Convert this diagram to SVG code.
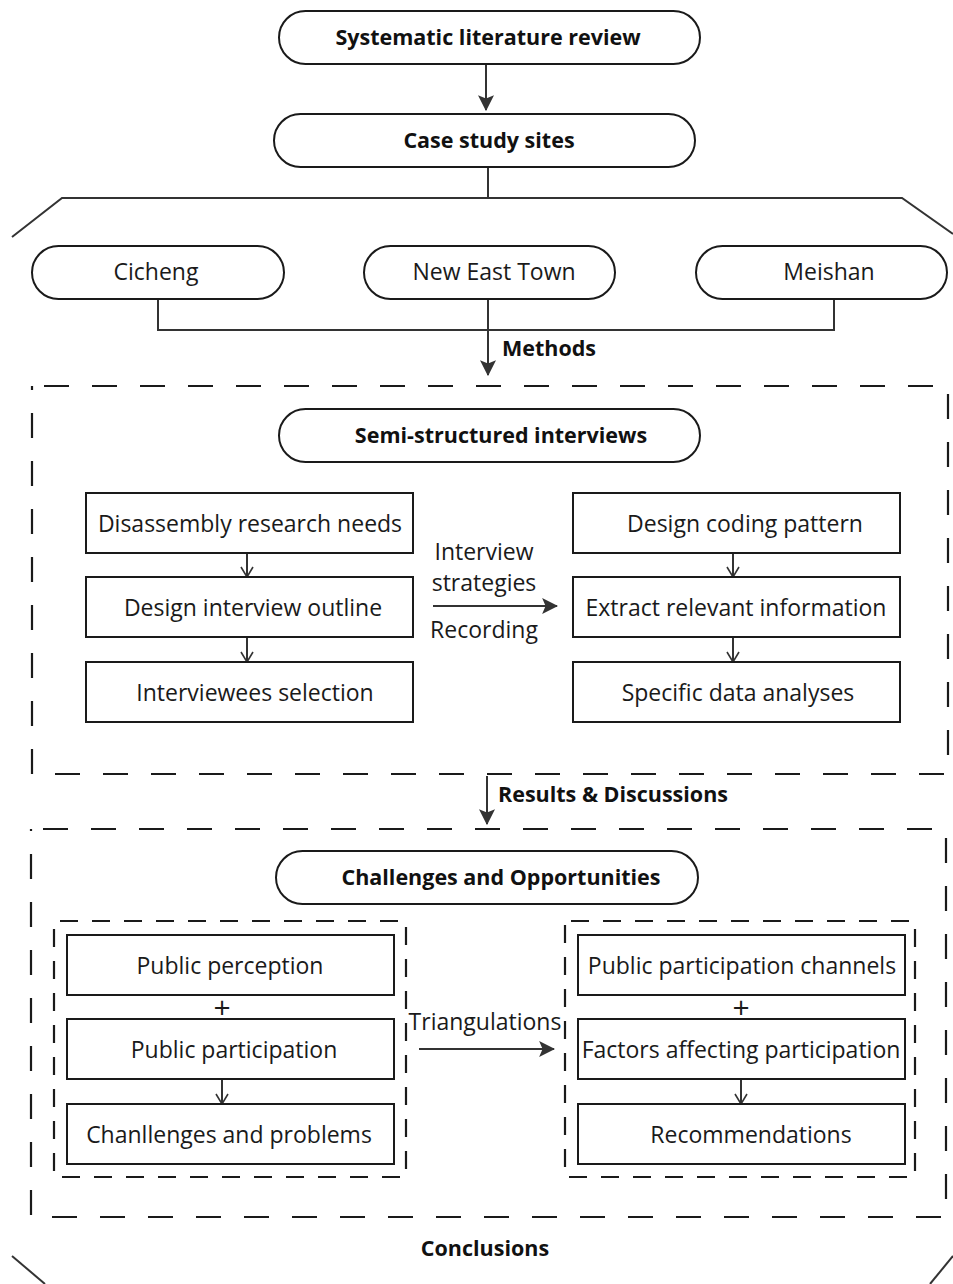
<svg xmlns="http://www.w3.org/2000/svg" width="953" height="1284" viewBox="0 0 953 1284">
<defs>
<style>
.pill{fill:#fff;stroke:#1a1a1a;stroke-width:2}
.box{fill:#fff;stroke:#1a1a1a;stroke-width:2}
.t{font-family:"Open Sans","Noto Sans",sans-serif;font-size:23px;fill:#1a1a1a;text-anchor:middle;dominant-baseline:central}
.b{font-family:"Open Sans","Noto Sans",sans-serif;font-size:21.5px;font-weight:bold;fill:#111;text-anchor:middle;dominant-baseline:central}
.bl{font-family:"Open Sans","Noto Sans",sans-serif;font-size:21.5px;font-weight:bold;fill:#111;dominant-baseline:central}
.plus{font-family:"Open Sans","Noto Sans",sans-serif;font-size:30px;fill:#1a1a1a;text-anchor:middle;dominant-baseline:central}
.ln{fill:none;stroke:#333;stroke-width:2}
.dash{fill:none;stroke:#1a1a1a;stroke-width:2.2;stroke-dasharray:25 23}
.dash2{fill:none;stroke:#1a1a1a;stroke-width:2.2;stroke-dasharray:18 14}
</style>
<marker id="ah2" viewBox="0 0 14 14" refX="13" refY="7" markerWidth="16" markerHeight="16" markerUnits="userSpaceOnUse" orient="auto">
<path d="M0,0 L14,7 L0,14 L3,7 Z" fill="#333"/>
</marker>
<marker id="ch" viewBox="0 0 12 14" refX="11" refY="7" markerWidth="12" markerHeight="14" markerUnits="userSpaceOnUse" orient="auto">
<path d="M1,1 L11,7 L1,13" fill="none" stroke="#333" stroke-width="1.6"/>
</marker>
</defs>

<g id="connectors">
<line class="ln" x1="486" y1="64" x2="486" y2="110" marker-end="url(#ah2)"/>
<polyline class="ln" points="488,167 488,198"/>
<polyline class="ln" points="12,237 62,198 902,198 953,234"/>
<polyline class="ln" points="158,299 158,330 834,330 834,299"/>
<line class="ln" x1="488" y1="299" x2="488" y2="375" marker-end="url(#ah2)"/>
<line class="ln" x1="487" y1="776" x2="487" y2="824" marker-end="url(#ah2)"/>
<line class="ln" x1="247" y1="553" x2="247" y2="577" stroke-width="1.6" marker-end="url(#ch)"/>
<line class="ln" x1="247" y1="637" x2="247" y2="662" stroke-width="1.6" marker-end="url(#ch)"/>
<line class="ln" x1="733" y1="553" x2="733" y2="577" stroke-width="1.6" marker-end="url(#ch)"/>
<line class="ln" x1="733" y1="637" x2="733" y2="662" stroke-width="1.6" marker-end="url(#ch)"/>
<line class="ln" x1="433" y1="606" x2="557" y2="606" marker-end="url(#ah2)"/>
<line class="ln" x1="222" y1="1079" x2="222" y2="1104" stroke-width="1.6" marker-end="url(#ch)"/>
<line class="ln" x1="741" y1="1079" x2="741" y2="1104" stroke-width="1.6" marker-end="url(#ch)"/>
<line class="ln" x1="419" y1="1049" x2="554" y2="1049" marker-end="url(#ah2)"/>
<polyline class="ln" points="12,1256 45,1284"/>
<polyline class="ln" points="953,1256 930,1284"/>
</g>

<g id="labels">
<text class="bl" x="502" y="347">Methods</text>
<text class="t" x="484" y="551">Interview</text>
<text class="t" x="484" y="582">strategies</text>
<text class="t" x="484" y="629">Recording</text>
<text class="bl" x="498" y="793">Results &amp; Discussions</text>
<text class="t" x="485" y="1021">Triangulations</text>
<text class="b" x="485" y="1247">Conclusions</text>
<text class="plus" x="222" y="1006">+</text>
<text class="plus" x="741" y="1006">+</text>
</g>

<g id="dashed-frames">
<path class="dash" d="M32 386 H948 V774 H32 Z" stroke-dashoffset="-12"/>
<path class="dash" d="M31 829 H946 V1217 H31 Z" stroke-dashoffset="-12"/>
<path class="dash2" d="M54 921 H406 V1177 H54 Z" stroke-dashoffset="-6"/>
<path class="dash2" d="M565 921 H915 V1177 H565 Z" stroke-dashoffset="-6"/>
</g>

<g id="n-slr"><rect class="pill" x="279" y="11" width="421" height="53" rx="26.5"/><text class="b" x="488" y="36">Systematic literature review</text></g>
<g id="n-css"><rect class="pill" x="274" y="114" width="421" height="53" rx="26.5"/><text class="b" x="489" y="139">Case study sites</text></g>
<g id="n-cicheng"><rect class="pill" x="32" y="246" width="252" height="53" rx="26.5"/><text class="t" x="156" y="271">Cicheng</text></g>
<g id="n-net"><rect class="pill" x="364" y="246" width="251" height="53" rx="26.5"/><text class="t" x="494" y="271">New East Town</text></g>
<g id="n-meishan"><rect class="pill" x="696" y="246" width="251" height="53" rx="26.5"/><text class="t" x="829" y="271">Meishan</text></g>

<g id="n-ssi"><rect class="pill" x="279" y="409" width="421" height="53" rx="26.5"/><text class="b" x="501" y="434">Semi-structured interviews</text></g>
<g id="n-drn"><rect class="box" x="86" y="493" width="327" height="60"/><text class="t" x="250" y="523">Disassembly research needs</text></g>
<g id="n-dio"><rect class="box" x="86" y="577" width="327" height="60"/><text class="t" x="253" y="607">Design interview outline</text></g>
<g id="n-is"><rect class="box" x="86" y="662" width="327" height="60"/><text class="t" x="255" y="692">Interviewees selection</text></g>
<g id="n-dcp"><rect class="box" x="573" y="493" width="327" height="60"/><text class="t" x="745" y="523">Design coding pattern</text></g>
<g id="n-eri"><rect class="box" x="573" y="577" width="327" height="60"/><text class="t" x="736" y="607">Extract relevant information</text></g>
<g id="n-sda"><rect class="box" x="573" y="662" width="327" height="60"/><text class="t" x="738" y="692">Specific data analyses</text></g>

<g id="n-cao"><rect class="pill" x="276" y="851" width="422" height="53" rx="26.5"/><text class="b" x="501" y="876">Challenges and Opportunities</text></g>
<g id="n-pp"><rect class="box" x="67" y="935" width="327" height="60"/><text class="t" x="230" y="965">Public perception</text></g>
<g id="n-ppa"><rect class="box" x="67" y="1019" width="327" height="60"/><text class="t" x="234" y="1049">Public participation</text></g>
<g id="n-cap"><rect class="box" x="67" y="1104" width="327" height="60"/><text class="t" x="229" y="1134">Chanllenges and problems</text></g>
<g id="n-ppc"><rect class="box" x="578" y="935" width="327" height="60"/><text class="t" x="742" y="965">Public participation channels</text></g>
<g id="n-fap"><rect class="box" x="578" y="1019" width="327" height="60"/><text class="t" x="741" y="1049">Factors affecting participation</text></g>
<g id="n-rec"><rect class="box" x="578" y="1104" width="327" height="60"/><text class="t" x="751" y="1134">Recommendations</text></g>
</svg>
